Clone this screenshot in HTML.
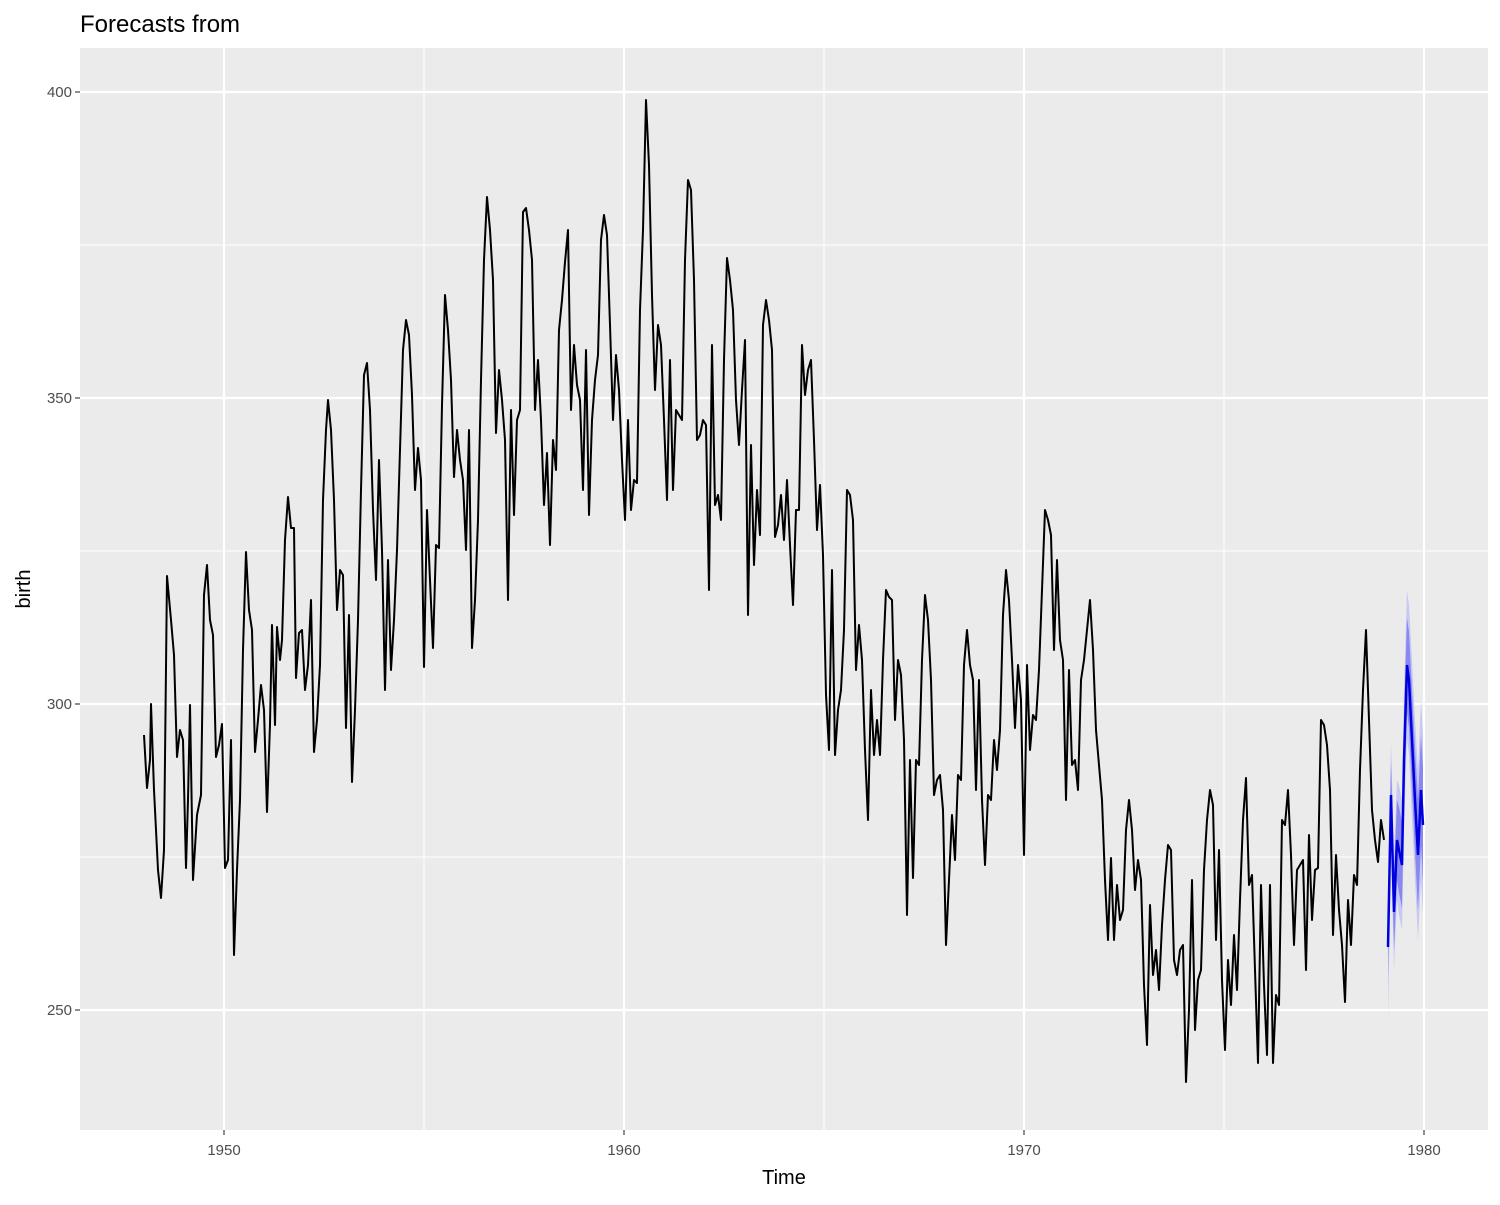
<!DOCTYPE html>
<html><head><meta charset="utf-8"><style>
html,body{margin:0;padding:0;background:#fff;}
svg text{font-family:"Liberation Sans",sans-serif;}
</style></head><body>
<svg width="1500" height="1200" xmlns="http://www.w3.org/2000/svg">
<rect width="1500" height="1200" fill="#fff"/>
<rect x="80" y="48" width="1408" height="1082" fill="#ebebeb"/>
<g stroke="#fff" stroke-width="1.1">
<line x1="80" x2="1488" y1="245" y2="245"/><line x1="80" x2="1488" y1="551" y2="551"/><line x1="80" x2="1488" y1="857" y2="857"/>
<line x1="424" x2="424" y1="48" y2="1130"/><line x1="824" x2="824" y1="48" y2="1130"/><line x1="1224" x2="1224" y1="48" y2="1130"/>
</g>
<g stroke="#fff" stroke-width="2.2">
<line x1="80" x2="1488" y1="92" y2="92"/><line x1="80" x2="1488" y1="398" y2="398"/><line x1="80" x2="1488" y1="704" y2="704"/><line x1="80" x2="1488" y1="1010" y2="1010"/>
<line x1="224" x2="224" y1="48" y2="1130"/><line x1="624" x2="624" y1="48" y2="1130"/><line x1="1024" x2="1024" y1="48" y2="1130"/><line x1="1424" x2="1424" y1="48" y2="1130"/>
</g>
<polyline fill="none" stroke="#000" stroke-width="2" stroke-linejoin="round" points="144,735 147,788 150,760 151,704 154,790 156,830 158,870 161,898 164,850 167,576 171,620 174,655 177,757 180,730 183,740 186,868 188,800 190,705 193,880 197,815 201,795 204,595 207,565 210,620 213,635 216,757 219,745 222,724 225,868 228,860 231,740 234,955 237,870 240,800 243,650 246,552 249,610 252,630 255,752 258,720 261,685 264,710 267,812 270,724 272,625 275,725 277,627 280,660 282,640 285,540 288,497 291,528 294,528 296,678 299,633 302,630 305,690 308,665 311,600 314,752 317,720 320,665 323,500 326,430 328,400 331,430 334,500 337,610 340,570 343,575 346,728 349,615 352,782 355,710 358,620 361,490 364,375 367,363 370,410 373,510 376,580 379,460 382,550 385,690 388,560 391,670 394,620 397,550 400,450 403,350 406,320 409,335 412,395 415,490 418,448 421,480 424,667 427,510 430,580 433,648 436,545 439,548 442,405 445,295 448,330 451,380 454,477 457,430 460,460 463,480 466,550 469,430 472,648 475,600 478,520 481,380 484,260 487,197 490,230 493,280 496,433 499,370 502,400 505,440 508,600 511,410 514,515 517,420 520,410 523,212 526,208 529,230 532,260 535,410 538,360 541,420 544,505 547,453 550,545 553,440 556,470 559,330 562,300 565,262 568,230 571,410 574,345 577,385 580,400 583,490 586,350 589,515 592,420 595,380 598,355 601,240 604,215 607,235 610,325 613,420 616,355 619,390 622,460 625,520 628,420 631,510 634,480 637,483 640,310 643,230 646,100 649,165 652,295 655,390 658,325 661,345 664,420 667,500 670,360 673,490 676,410 679,415 682,420 685,260 688,180 691,190 694,280 697,440 700,435 703,420 706,425 709,590 712,345 715,505 718,495 721,520 724,360 727,258 730,280 733,310 736,400 739,445 742,390 745,340 748,615 751,445 754,565 757,490 760,535 763,325 766,300 769,320 772,350 775,537 778,525 781,495 784,540 787,480 790,545 793,605 796,510 799,510 802,345 805,395 808,370 811,360 814,440 817,530 820,485 823,555 826,695 829,750 832,570 835,755 838,710 841,690 844,630 847,490 850,495 853,520 856,670 859,625 862,660 865,750 868,820 871,690 874,755 877,720 880,755 883,660 886,590 889,597 892,600 895,720 898,660 901,675 904,740 907,915 910,760 913,878 916,760 919,765 922,660 925,595 928,620 931,680 934,795 937,780 940,775 943,810 946,945 949,880 952,815 955,860 958,775 961,780 964,665 967,630 970,665 973,680 976,790 979,680 982,800 985,865 988,795 991,800 994,740 997,770 1000,730 1003,615 1006,570 1009,600 1012,660 1015,728 1018,665 1021,700 1024,855 1027,665 1030,750 1033,715 1036,720 1039,670 1042,590 1045,510 1048,520 1051,535 1054,650 1057,560 1060,640 1063,660 1066,800 1069,670 1072,765 1075,760 1078,790 1081,680 1084,660 1087,630 1090,600 1093,650 1096,730 1099,765 1102,800 1105,880 1108,940 1111,858 1114,940 1117,885 1120,920 1123,910 1126,830 1129,800 1132,830 1135,890 1138,860 1141,880 1144,985 1147,1045 1150,905 1153,975 1156,950 1159,990 1162,925 1165,880 1168,845 1171,850 1174,960 1177,975 1180,950 1183,945 1186,1082 1189,1010 1192,880 1195,1030 1198,980 1201,970 1204,870 1207,820 1210,790 1213,805 1216,940 1219,850 1222,980 1225,1050 1228,960 1231,1005 1234,935 1237,990 1240,900 1243,820 1246,778 1249,885 1252,875 1255,970 1258,1063 1261,885 1264,985 1267,1055 1270,885 1273,1063 1276,995 1279,1005 1282,820 1285,825 1288,790 1291,855 1294,945 1297,870 1300,865 1303,860 1306,970 1309,835 1312,920 1315,870 1318,868 1321,720 1324,725 1327,745 1330,790 1333,935 1336,855 1339,910 1342,945 1345,1002 1348,900 1351,945 1354,875 1357,885 1360,770 1363,690 1366,630 1369,720 1372,810 1375,840 1378,862 1381,820 1384,840"/>
<polygon fill="#c8c8f4" points="1388,900 1391,740 1394,855 1397,780 1399,785 1402,800 1404,690 1407,590 1409,605 1412,660 1415,720 1418,770 1421,700 1423,735 1423,915 1421,880 1418,940 1415,880 1412,820 1409,755 1407,740 1404,830 1402,930 1399,915 1397,900 1394,970 1391,850 1388,1020"/>
<polygon fill="#8888f0" points="1388,915 1391,760 1394,875 1397,800 1399,807 1402,822 1404,715 1407,618 1409,632 1412,690 1415,748 1418,800 1421,735 1423,768 1423,882 1421,845 1418,910 1415,852 1412,790 1409,728 1407,712 1404,805 1402,908 1399,893 1397,880 1394,949 1391,830 1388,979"/>
<polyline fill="none" stroke="#0000dd" stroke-width="2.5" points="1388,947 1391,795 1394,912 1397,840 1399,850 1402,865 1404,760 1407,665 1409,680 1412,740 1415,800 1418,855 1421,790 1423,825"/>
<g fill="#4d4d4d" font-size="15" text-anchor="end">
<text x="72" y="97">400</text><text x="72" y="403">350</text><text x="72" y="709">300</text><text x="72" y="1015">250</text>
</g>
<g stroke="#333" stroke-width="1.1">
<line x1="75" x2="80" y1="92" y2="92"/><line x1="75" x2="80" y1="398" y2="398"/><line x1="75" x2="80" y1="704" y2="704"/><line x1="75" x2="80" y1="1010" y2="1010"/>
<line x1="224" x2="224" y1="1130" y2="1135"/><line x1="624" x2="624" y1="1130" y2="1135"/><line x1="1024" x2="1024" y1="1130" y2="1135"/><line x1="1424" x2="1424" y1="1130" y2="1135"/>
</g>
<g fill="#4d4d4d" font-size="15" text-anchor="middle">
<text x="224" y="1155">1950</text><text x="624" y="1155">1960</text><text x="1024" y="1155">1970</text><text x="1424" y="1155">1980</text>
</g>
<text x="784" y="1184" font-size="20" text-anchor="middle" fill="#000">Time</text>
<text transform="translate(30,589) rotate(-90)" font-size="20" text-anchor="middle" fill="#000">birth</text>
<text x="80" y="32" font-size="24" fill="#000">Forecasts from</text>
</svg>
</body></html>
